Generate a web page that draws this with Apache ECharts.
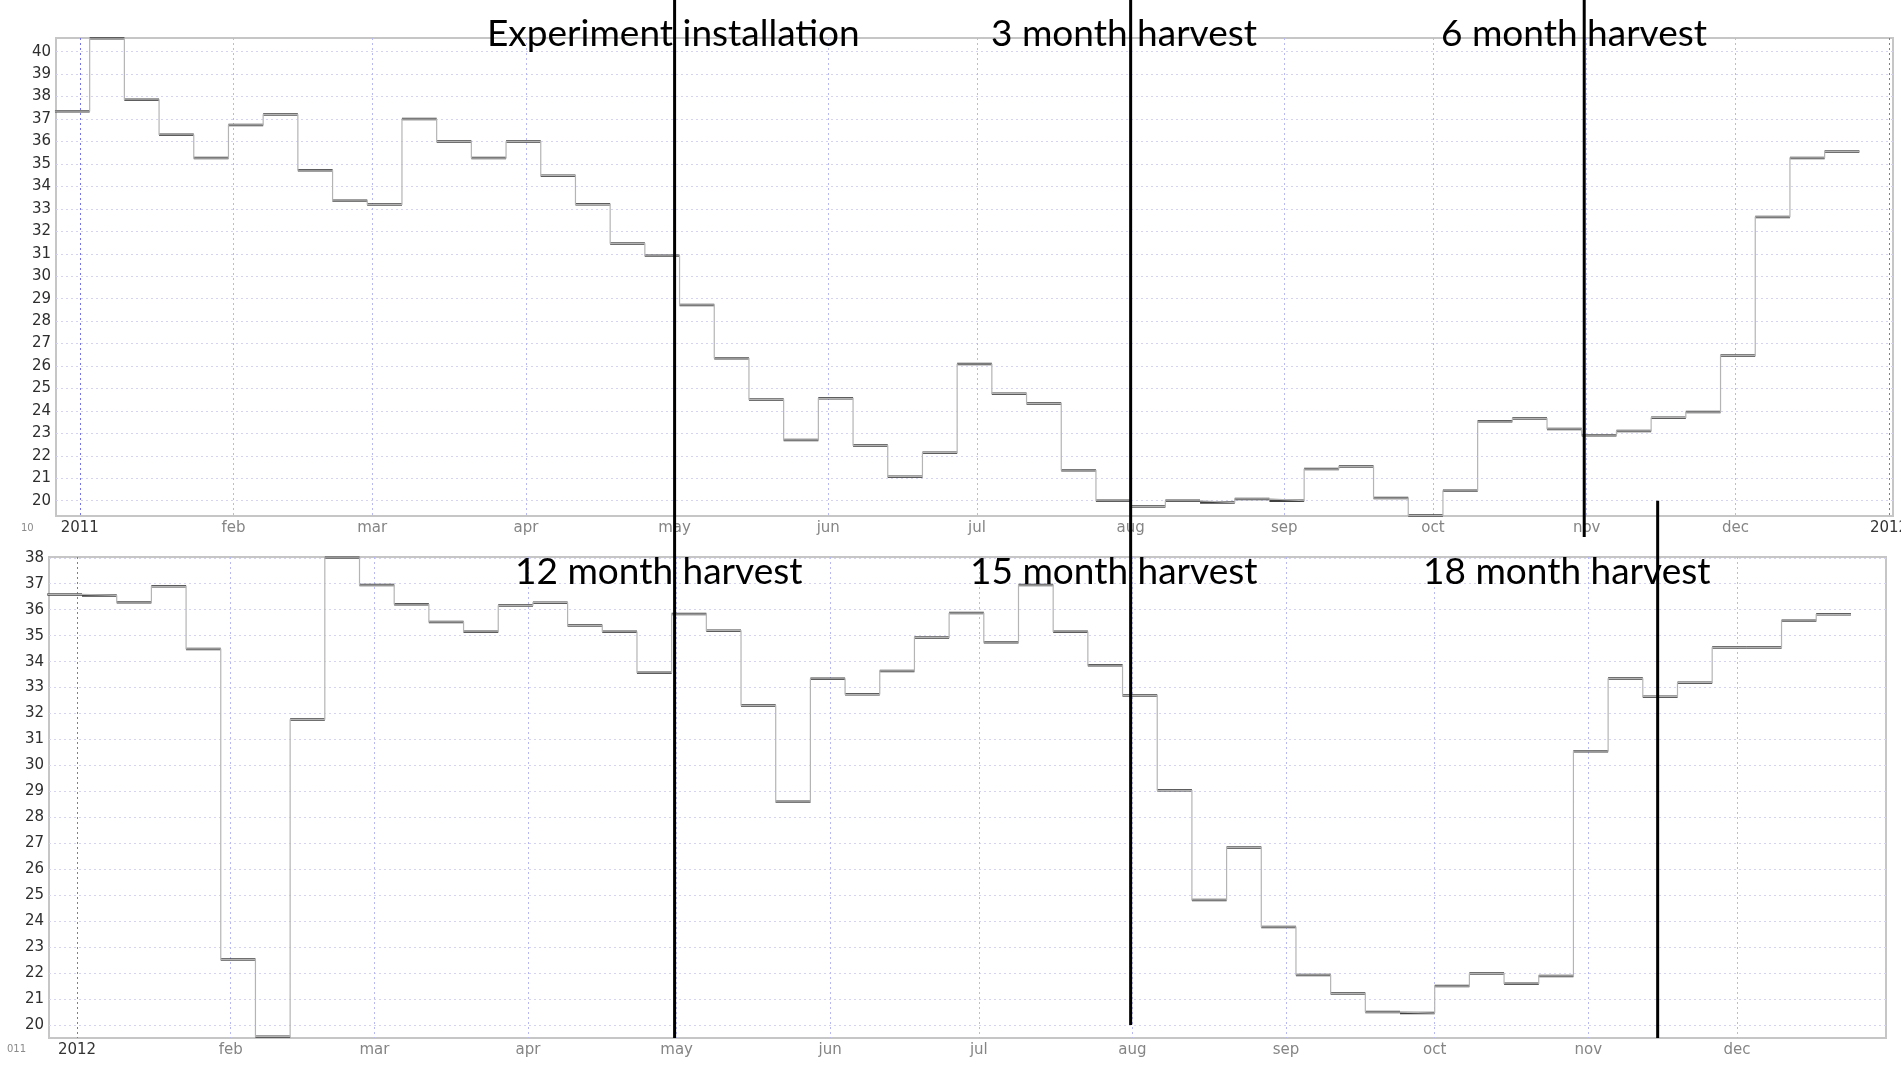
<!DOCTYPE html>
<html>
<head>
<meta charset="utf-8">
<title>harvest</title>
<script src="https://cdn.jsdelivr.net/npm/echarts@6.0.0/dist/echarts.min.js"></script>
<style>
  html, body { margin: 0; padding: 0; background: #fff; }
  #chart { width: 1901px; height: 1065px; }
</style>
</head>
<body>
<div id="chart"></div>
<script>
// weekly values, each held from its monday to the next one
var weeks2011 = ['2010-12-27', '2011-01-03', '2011-01-10', '2011-01-17', '2011-01-24', '2011-01-31',
  '2011-02-07', '2011-02-14', '2011-02-21', '2011-02-28', '2011-03-07', '2011-03-14', '2011-03-21',
  '2011-03-28', '2011-04-04', '2011-04-11', '2011-04-18', '2011-04-25', '2011-05-02', '2011-05-09',
  '2011-05-16', '2011-05-23', '2011-05-30', '2011-06-06', '2011-06-13', '2011-06-20', '2011-06-27',
  '2011-07-04', '2011-07-11', '2011-07-18', '2011-07-25', '2011-08-01', '2011-08-08', '2011-08-15',
  '2011-08-22', '2011-08-29', '2011-09-05', '2011-09-12', '2011-09-19', '2011-09-26', '2011-10-03',
  '2011-10-10', '2011-10-17', '2011-10-24', '2011-10-31', '2011-11-07', '2011-11-14', '2011-11-21',
  '2011-11-28', '2011-12-05', '2011-12-12', '2011-12-19'];
var values2011 = [37.35, 40.6, 37.86, 36.3, 35.26, 36.74, 37.2, 34.72, 33.36, 33.19, 37.0, 36.0, 35.26,
  36.0, 34.48, 33.2, 31.46, 30.91, 28.72, 26.35, 24.51, 22.71, 24.56, 22.46, 21.07, 22.14, 26.09,
  24.77, 24.33, 21.36, 20.0, 19.74, 20.0, 19.92, 20.08, 20.0, 21.41, 21.52, 20.12, 19.34, 20.44,
  23.54, 23.66, 23.2, 22.92, 23.11, 23.7, 23.95, 26.47, 32.64, 35.27, 35.56];

var weeks2012 = ['2011-12-26', '2012-01-02', '2012-01-09', '2012-01-16', '2012-01-23', '2012-01-30',
  '2012-02-06', '2012-02-13', '2012-02-20', '2012-02-27', '2012-03-05', '2012-03-12', '2012-03-19',
  '2012-03-26', '2012-04-02', '2012-04-09', '2012-04-16', '2012-04-23', '2012-04-30', '2012-05-07',
  '2012-05-14', '2012-05-21', '2012-05-28', '2012-06-04', '2012-06-11', '2012-06-18', '2012-06-25',
  '2012-07-02', '2012-07-09', '2012-07-16', '2012-07-23', '2012-07-30', '2012-08-06', '2012-08-13',
  '2012-08-20', '2012-08-27', '2012-09-03', '2012-09-10', '2012-09-17', '2012-09-24', '2012-10-01',
  '2012-10-08', '2012-10-15', '2012-10-22', '2012-10-29', '2012-11-05', '2012-11-12', '2012-11-19',
  '2012-11-26', '2012-12-03', '2012-12-10', '2012-12-17'];
var values2012 = [36.59, 36.55, 36.29, 36.9, 34.49, 22.52, 19.55, 31.77, 38.0, 36.95, 36.21, 35.53, 35.15,
  36.16, 36.27, 35.39, 35.15, 33.57, 35.83, 35.19, 32.31, 28.6, 33.34, 32.74, 33.64, 34.93, 35.87,
  34.75, 36.95, 35.15, 33.86, 32.69, 29.04, 24.82, 26.84, 23.78, 21.93, 21.21, 20.5, 20.46, 21.5,
  21.98, 21.59, 21.89, 30.55, 33.35, 32.65, 33.19, 34.54, 34.54, 35.57, 35.82];

var monthTicks2011 = ['2011-01-01', '2011-02-01', '2011-03-01', '2011-04-01', '2011-05-01', '2011-06-01',
  '2011-07-01', '2011-08-01', '2011-09-01', '2011-10-01', '2011-11-01', '2011-12-01', '2012-01-01'];
var monthTicks2012 = ['2012-01-01', '2012-02-01', '2012-03-01', '2012-04-01', '2012-05-01', '2012-06-01',
  '2012-07-01', '2012-08-01', '2012-09-01', '2012-10-01', '2012-11-01', '2012-12-01'];
var monthNames = ['jan', 'feb', 'mar', 'apr', 'may', 'jun', 'jul', 'aug', 'sep', 'oct', 'nov', 'dec'];

var yTicks2011 = [20, 21, 22, 23, 24, 25, 26, 27, 28, 29, 30, 31, 32, 33, 34, 35, 36, 37, 38, 39, 40];
var yTicks2012 = [20, 21, 22, 23, 24, 25, 26, 27, 28, 29, 30, 31, 32, 33, 34, 35, 36, 37, 38];

var harvestLabels = ['Experiment installation', '3 month harvest', '6 month harvest',
  '12 month harvest', '15 month harvest', '18 month harvest'];
var harvestDates = ['2011-05-01', '2011-08-01', '2011-10-31 12:00', '2012-11-15'];

var WEEK = 7 * 24 * 3600 * 1000;
var parseT = (echarts.time && echarts.time.parse) ? echarts.time.parse : function (s) {
  return new Date(s.replace(' ', 'T'));
};
function ts(s) { return +parseT(s); }

function stepData(weeks, vals) {
  var out = weeks.map(function (w, i) { return [ts(w), vals[i]]; });
  out.push([ts(weeks[weeks.length - 1]) + WEEK, vals[vals.length - 1]]);
  return out;
}
function flatData(weeks, vals) {
  return weeks.map(function (w, i) {
    var end = i + 1 < weeks.length ? ts(weeks[i + 1]) : ts(w) + WEEK;
    return [ts(w), end, vals[i]];
  });
}
function renderFlat(params, api) {
  var p1 = api.coord([api.value(0), api.value(2)]);
  var p2 = api.coord([api.value(1), api.value(2)]);
  return {
    type: 'line',
    shape: { x1: p1[0], y1: p1[1], x2: p2[0], y2: p2[1] },
    style: { stroke: '#404040', lineWidth: 2.5 }
  };
}
function monthLabel(value) {
  var d = new Date(value);
  if (d.getMonth() === 0) return '{y|' + d.getFullYear() + '}';
  return '{m|' + monthNames[d.getMonth()] + '}';
}

var FONT = 'DejaVu Sans';
var vColors = ['#7474e8', '#b8b8f2', '#b8b8f2', '#b8b8f2', '#b8b8f2', '#b8b8f2',
  '#b8b8f2', '#b8b8f2', '#b8b8f2', '#b8b8f2', '#b8b8f2', '#b8b8f2'];

// x is a plain value axis of timestamps so the month ticks can be set by hand
function xAxisOf(idx, ticks, min, max) {
  var t = ticks.map(ts);
  return {
    type: 'value', gridIndex: idx, min: ts(min), max: ts(max), scale: true,
    axisLine: { show: false },
    axisTick: { show: false, customValues: t },
    axisLabel: {
      customValues: t, formatter: monthLabel, margin: 5, fontFamily: FONT, fontSize: 15,
      rich: {
        y: { color: '#333', fontFamily: FONT, fontSize: 15 },
        m: { color: '#858585', fontFamily: FONT, fontSize: 15 }
      }
    },
    splitLine: { show: true, lineStyle: { color: vColors, width: 1, type: [2, 3] } }
  };
}
function yAxisOf(idx, ticks, min, max) {
  return {
    type: 'value', gridIndex: idx, min: min, max: max,
    axisLine: { show: false },
    axisTick: { show: false, customValues: ticks },
    axisLabel: { customValues: ticks, color: '#2e2e2e', fontFamily: FONT, fontSize: 15, margin: 5 },
    splitLine: { show: true, lineStyle: { color: '#d4d4f2', width: 1, type: [2, 3] } }
  };
}

var chartView = document.getElementById('chart');
var myChart = echarts.init(chartView);
myChart.setOption({
  animation: false,
  backgroundColor: '#fff',
  grid: [
    { left: 56, right: 8, top: 38, height: 478, show: true, borderColor: '#c6c6c6', borderWidth: 2,
      containLabel: false, outerBoundsMode: 'none' },
    { left: 49, right: 15, top: 557, height: 481, show: true, borderColor: '#c6c6c6', borderWidth: 2,
      containLabel: false, outerBoundsMode: 'none' }
  ],
  xAxis: [
    xAxisOf(0, monthTicks2011, '2010-12-27 05:00', '2012-01-01 19:00'),
    xAxisOf(1, monthTicks2012, '2011-12-26 08:00', '2012-12-31 02:00')
  ],
  yAxis: [
    yAxisOf(0, yTicks2011, 19.32, 40.61),
    yAxisOf(1, yTicks2012, 19.5, 38.03)
  ],
  series: [
    { type: 'line', step: 'end', xAxisIndex: 0, yAxisIndex: 0, symbol: 'none', silent: true,
      lineStyle: { color: '#b4b4b4', width: 1.2 }, data: stepData(weeks2011, values2011) },
    { type: 'custom', xAxisIndex: 0, yAxisIndex: 0, silent: true, renderItem: renderFlat,
      encode: { x: [0, 1], y: 2 }, data: flatData(weeks2011, values2011) },
    { type: 'line', step: 'end', xAxisIndex: 1, yAxisIndex: 1, symbol: 'none', silent: true,
      lineStyle: { color: '#b4b4b4', width: 1.2 }, data: stepData(weeks2012, values2012) },
    { type: 'custom', xAxisIndex: 1, yAxisIndex: 1, silent: true, renderItem: renderFlat,
      encode: { x: [0, 1], y: 2 }, data: flatData(weeks2012, values2012) }
  ]
});

// harvest markers, placed through the axes
var xA = myChart.convertToPixel({ xAxisIndex: 0 }, ts(harvestDates[0]));
var xB = myChart.convertToPixel({ xAxisIndex: 0 }, ts(harvestDates[1]));
var xC = myChart.convertToPixel({ xAxisIndex: 0 }, ts(harvestDates[2]));
var xD = myChart.convertToPixel({ xAxisIndex: 1 }, ts(harvestDates[3]));
var bottomEnd = myChart.convertToPixel({ yAxisIndex: 1 }, 19.5);
var bottom20 = myChart.convertToPixel({ yAxisIndex: 1 }, 20);
var top20 = myChart.convertToPixel({ yAxisIndex: 0 }, 20);

function vline(x, y1, y2) {
  return { type: 'line', z: 100, shape: { x1: x, y1: y1, x2: x, y2: y2 },
    style: { stroke: '#000', lineWidth: 3 } };
}
function note(text, x, y) {
  return { type: 'text', z: 90, x: x, y: y,
    style: { text: text, font: '37px Lato', fill: '#000', verticalAlign: 'middle' } };
}
function stub(text, x, y) {
  return { type: 'text', z: 90, x: x, y: y,
    style: { text: text, font: '10px "DejaVu Sans"', fill: '#8a8a8a', verticalAlign: 'middle' } };
}

myChart.setOption({
  graphic: [
    vline(xA, 0, bottomEnd),
    vline(xB, 0, bottom20),
    vline(xC, 0, 537),
    vline(xD, top20, bottomEnd),
    note(harvestLabels[0], 487, 34),
    note(harvestLabels[1], 991, 34),
    note(harvestLabels[2], 1441, 34),
    note(harvestLabels[3], 515, 572),
    note(harvestLabels[4], 970, 572),
    note(harvestLabels[5], 1423, 572),
    stub('10', 21, 528),
    stub('011', 7, 1049)
  ]
});

window.addEventListener('resize', function () {
  myChart.resize();
});
</script>
</body>
</html>
